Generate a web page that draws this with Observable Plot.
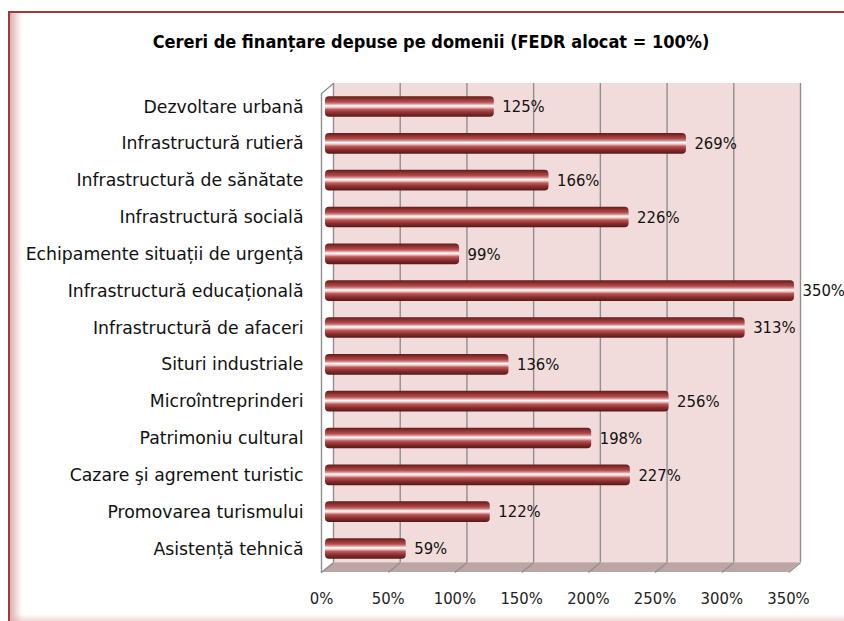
<!DOCTYPE html>
<html><head><meta charset="utf-8">
<script src="https://cdn.jsdelivr.net/npm/d3@7"></script>
<script src="https://cdn.jsdelivr.net/npm/@observablehq/plot@0.6"></script>
<style>
body{margin:0;background:#fff;width:844px;height:621px;overflow:hidden;position:relative;font-family:"DejaVu Sans Condensed","DejaVu Sans",sans-serif}
#frame{position:absolute;left:8px;top:11px;width:900px;height:700px;border-left:2px solid #9b3b3b;border-top:2px solid #9b3b3b;}
#shadowL{position:absolute;left:10px;top:13px;width:12px;height:608px;background:linear-gradient(to right,rgba(200,110,110,.55),rgba(255,255,255,0));}
#shadowB{position:absolute;left:10px;width:834px;top:614px;height:7px;background:linear-gradient(to bottom,rgba(255,255,255,0),rgba(230,170,170,.45));}
#title{position:absolute;left:18px;width:826px;top:31px;text-align:center;font-weight:bold;font-size:18px;line-height:22px;color:#000;font-family:"DejaVu Sans Condensed","DejaVu Sans",sans-serif}
#chart{position:absolute;left:0;top:70px}
</style></head>
<body>
<div id="frame"></div><div id="shadowL"></div><div id="shadowB"></div>
<div id="title">Cereri de finanțare depuse pe domenii (FEDR alocat = 100%)</div>
<div id="chart"></div>
<script>
const categories = ["Dezvoltare urbană","Infrastructură rutieră","Infrastructură de sănătate","Infrastructură socială","Echipamente situații de urgență","Infrastructură educațională","Infrastructură de afaceri","Situri industriale","Microîntreprinderi","Patrimoniu cultural","Cazare şi agrement turistic","Promovarea turismului","Asistență tehnică"];
const values = [125,269,166,226,99,350,313,136,256,198,227,122,59];
const ticks = [0,50,100,150,200,250,300,350];

const rows = categories.map((name,i)=>({name, value:values[i], i}));

const W = 844, H = 551;
const xLeft = 327, xRight = 794;
const k = (xRight - xLeft) / 350;
const DX = 6 / k;           // half of the 3D depth, in x units
const yBackTop = -0.638, yBack = 12.37, yFront = 12.64, yLeftTop = -0.367, yTick = 13.345;
const half = 0.28;

const floorPts = [{y:yBack, x1:DX, x2:350+DX},{y:yFront, x1:-DX, x2:350-DX}];
const wallPts = [{x:DX,y:yBackTop},{x:-DX,y:yLeftTop},{x:-DX,y:yFront}];
const grid = "#8f8f8f";

const chart = Plot.plot({
  width: W, height: H,
  marginLeft: xLeft, marginRight: W - xRight, marginTop: 0, marginBottom: 0,
  x: {domain:[0,350], axis:null},
  y: {domain:[0,12], range:[106.5-70, 548.5-70], axis:null},
  style: {fontFamily:'"DejaVu Sans Condensed","DejaVu Sans",sans-serif', fontSize:"16px", background:"none", color:"#000"},
  marks: [
    Plot.rect([{a:DX,b:350+DX}], {x1:"a", x2:"b", y1:()=>yBackTop, y2:()=>yBack, fill:"#F2DCDB"}),
    Plot.ruleX(ticks, {x:d=>d+DX, y1:()=>yBackTop, y2:()=>yBack, stroke:grid, strokeWidth:1.4}),
    Plot.areaX(floorPts, {y:"y", x1:"x1", x2:"x2", fill:"#BBA6A5"}),
    Plot.link(ticks, {x1:d=>d+DX, y1:()=>yBack, x2:d=>d-DX, y2:()=>yFront, stroke:grid, strokeWidth:1.3}),
    Plot.line(wallPts, {x:"x", y:"y", stroke:grid, strokeWidth:1.4}),
    Plot.rect(rows, {x1:()=>0, x2:"value", y1:d=>d.i-half, y2:d=>d.i+half, fill:"url(#cyl)", rx:4, insetLeft:-2}),
    Plot.text(rows, {x:"value", y:"i", text:d=>d.value+"%", dx:8, textAnchor:"start", fill:"#111", fontSize:16.5, ariaLabel:"values"}),
    Plot.text(rows, {x:()=>0, y:"i", text:"name", textAnchor:"end", dx:-24, fill:"#111", fontSize:17.3, fontFamily:'"DejaVu Sans",sans-serif'}),
    Plot.text(ticks, {x:d=>d, y:()=>yTick, text:d=>d+"%", dx:-6, fill:"#222", fontSize:16.5})
  ]
});

const svg = d3.select(chart);
const defs = svg.insert("defs", ":first-child");
const lg = defs.append("linearGradient").attr("id","cyl").attr("x1",0).attr("y1",0).attr("x2",0).attr("y2",1);
[[0,"#5e1c1c"],[0.12,"#8a2e2e"],[0.28,"#b44b4b"],[0.38,"#d99494"],[0.46,"#ffffff"],[0.54,"#f0c8c8"],[0.64,"#c05858"],[0.8,"#8c3030"],[1,"#561818"]]
  .forEach(([o,c])=>lg.append("stop").attr("offset",o).attr("stop-color",c));

svg.selectAll('g[aria-label="values"] text').each(function(){
  const t = this.textContent;
  const num = t.replace("%","");
  const el = d3.select(this);
  el.text(null);
  el.append("tspan").text(num);
  el.append("tspan").attr("fill","#8a8a8a").text("%");
});

document.getElementById("chart").appendChild(chart);
</script>
</body></html>
